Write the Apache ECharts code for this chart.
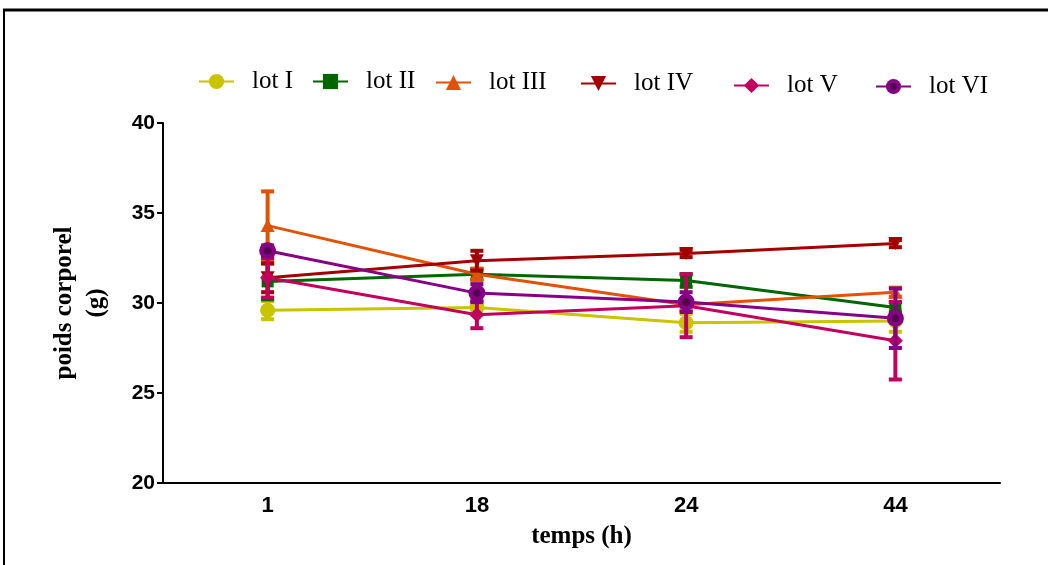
<!DOCTYPE html>
<html>
<head>
<meta charset="utf-8">
<script src="https://cdn.jsdelivr.net/npm/echarts@6/dist/echarts.min.js"></script>
<style>
html,body{margin:0;padding:0;background:#fff;}
#chart{width:1048px;height:565px;}
</style>
</head>
<body>
<div id="chart"></div>
<script>
// ---- data ----
var categories = ['1', '18', '24', '44'];
var yTicks = [20, 25, 30, 35, 40];

var lotNames = ['lot I', 'lot II', 'lot III', 'lot IV', 'lot V', 'lot VI'];

var lotI   = [29.6, 29.75, 28.9, 29.0];
var lotII  = [31.2, 31.6, 31.25, 29.75];
var lotIII = [34.3, 31.6, 29.9, 30.6];
var lotIV  = [31.4, 32.35, 32.75, 33.3];
var lotV   = [31.4, 29.35, 29.85, 27.9];
var lotVI  = [32.9, 30.55, 30.05, 29.15];

var errI   = [0.5, 0.4, 0.5, 0.6];
var errII  = [1.0, 0.3, 0.35, 0.3];
var errIII = [1.9, 0.3, 0.3, 0.25];
var errIV  = [0.8, 0.55, 0.2, 0.2];
var errV   = [1.1, 0.75, 1.75, 2.15];
var errVI  = [0.3, 0.5, 0.55, 1.65];

// ---- styling ----
var values = [lotI, lotII, lotIII, lotIV, lotV, lotVI];
var errors = [errI, errII, errIII, errIV, errV, errVI];
var colors = ['#C8C400', '#006600', '#E05206', '#A30000', '#C2005E', '#860085'];
var symbols = ['circle', 'rect', 'triangle', 'path://M0,0 L10,0 L5,9 Z', 'diamond', 'circle'];
var symbolSizes = [15, 12, [14, 13], [14, 13], 15, 17];
var legendPos = [[198, 82], [312, 82], [435, 83], [580, 84], [733, 86], [875, 87]];

var series = [];
var legends = [];
lotNames.forEach(function (name, k) {
  var col = colors[k];
  var errData = values[k].map(function (v, i) { return [i, v, errors[k][i]]; });
  series.push({
    name: name + ' err',
    type: 'custom',
    z: 2 + k * 2,
    silent: true,
    data: errData,
    renderItem: function (params, api) {
      var x = api.value(0), v = api.value(1), e = api.value(2);
      var top = api.coord([x, v + e]);
      var bot = api.coord([x, v - e]);
      var hw = 6.5;
      var st = { stroke: col, lineWidth: 4 };
      return {
        type: 'group',
        children: [
          { type: 'line', shape: { x1: top[0], y1: top[1], x2: bot[0], y2: bot[1] }, style: st },
          { type: 'line', shape: { x1: top[0] - hw, y1: top[1], x2: top[0] + hw, y2: top[1] }, style: st },
          { type: 'line', shape: { x1: bot[0] - hw, y1: bot[1], x2: bot[0] + hw, y2: bot[1] }, style: st }
        ]
      };
    }
  });
  var itemColor = col;
  if (k === 5) {
    itemColor = {
      type: 'radial', x: 0.5, y: 0.5, r: 0.5,
      colorStops: [
        { offset: 0, color: '#55004F' }, { offset: 0.42, color: '#55004F' },
        { offset: 0.5, color: col }, { offset: 1, color: col }
      ]
    };
  }
  series.push({
    name: name,
    type: 'line',
    z: 3 + k * 2,
    data: values[k],
    symbol: symbols[k],
    symbolSize: symbolSizes[k],
    showAllSymbol: true,
    lineStyle: { color: col, width: 3 },
    itemStyle: { color: itemColor, borderWidth: 0 },
    emphasis: { disabled: true }
  });
  legends.push({
    data: [name],
    left: legendPos[k][0],
    top: legendPos[k][1] - 13,
    itemWidth: 35,
    itemHeight: 19,
    selectedMode: false,
    padding: 0,
    textStyle: {
      fontFamily: 'Liberation Serif',
      fontSize: 25,
      color: '#000',
      padding: [0, 0, 0, 13]
    }
  });
});

var chart = echarts.init(document.getElementById('chart'), null, { renderer: 'canvas' });
chart.setOption({
  animation: false,
  backgroundColor: '#fff',
  legend: legends,
  grid: { left: 163, right: 48, top: 123, bottom: 82, containLabel: false },
  xAxis: {
    type: 'category',
    data: categories,
    boundaryGap: true,
    name: 'temps (h)',
    nameLocation: 'middle',
    nameGap: 41,
    nameTextStyle: { fontFamily: 'Liberation Serif', fontWeight: 'bold', fontSize: 25, color: '#000' },
    axisLine: { lineStyle: { color: '#000', width: 2 } },
    axisTick: { alignWithLabel: true, length: 6, lineStyle: { color: '#000', width: 2 } },
    axisLabel: { fontFamily: 'Liberation Sans', fontWeight: 'bold', fontSize: 22, color: '#000', margin: 12 },
    splitLine: { show: false }
  },
  yAxis: {
    type: 'value',
    min: yTicks[0],
    max: yTicks[yTicks.length - 1],
    interval: yTicks[1] - yTicks[0],
    name: 'poids corporel\n(g)',
    nameLocation: 'middle',
    nameRotate: 90,
    nameGap: 50,
    nameTextStyle: { fontFamily: 'Liberation Serif', fontWeight: 'bold', fontSize: 25, lineHeight: 32, color: '#000' },
    axisLine: { show: true, lineStyle: { color: '#000', width: 2 } },
    axisTick: { show: true, length: 6, lineStyle: { color: '#000', width: 2 } },
    axisLabel: { fontFamily: 'Liberation Sans', fontWeight: 'bold', fontSize: 21, color: '#000', margin: 8 },
    splitLine: { show: false }
  },
  graphic: [
    { type: 'line', shape: { x1: 3, y1: 10, x2: 1048, y2: 10 }, style: { stroke: '#000', lineWidth: 3 }, silent: true },
    { type: 'line', shape: { x1: 4, y1: 9, x2: 4, y2: 565 }, style: { stroke: '#000', lineWidth: 2 }, silent: true }
  ],
  series: series
});
</script>
</body>
</html>
